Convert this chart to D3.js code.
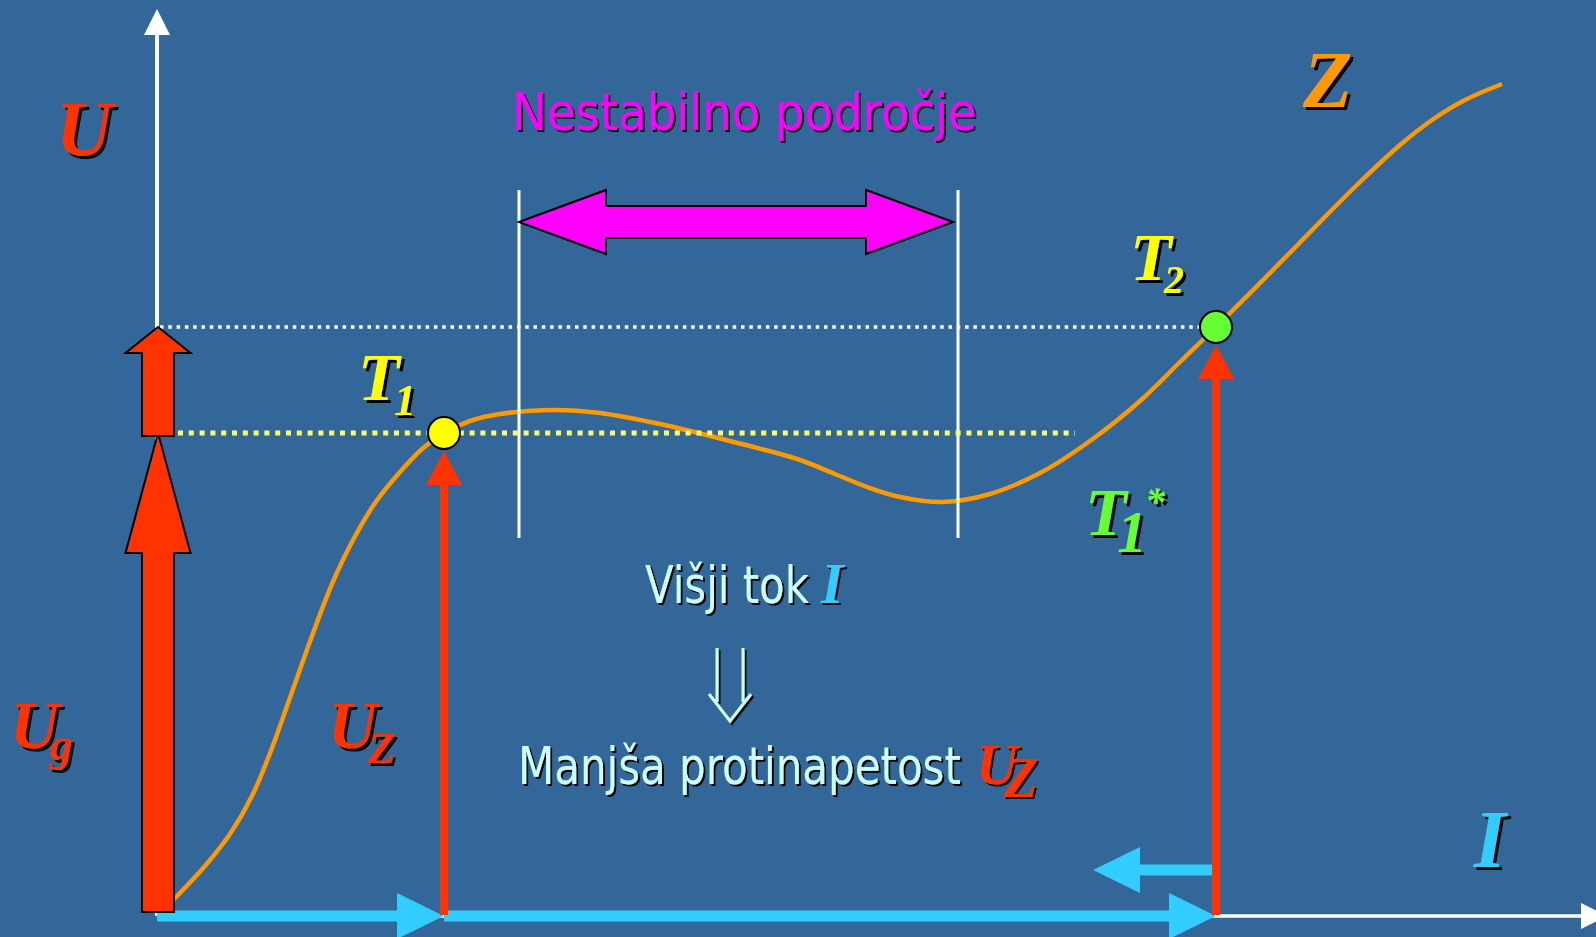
<!DOCTYPE html>
<html><head><meta charset="utf-8">
<script src="https://cdn.jsdelivr.net/npm/d3@7"></script>
<style>html,body{margin:0;padding:0;background:#336699;overflow:hidden}</style>
</head><body><svg id="c" width="1596" height="937"></svg>
<script>
// ---------- data (I = current, U = voltage, arbitrary units) ----------
const curveI = [0, 23, 48, 73, 95, 115, 135, 155, 175, 195, 218, 243, 265, 287, 313, 343, 398, 443, 503, 573, 643, 678, 710, 743, 786, 833, 883, 933, 983, 1023, 1059, 1110, 1163, 1203, 1243, 1275, 1308, 1345];
const curveU = [0, 23, 50, 82, 120, 168, 224, 280, 332, 374, 413, 444, 467, 483, 495, 502, 506, 503, 492, 475, 456, 442, 429, 419, 414, 422, 443, 475, 515, 554, 589, 640, 694, 734, 771, 796, 816, 832];
const pointNames = ["T1", "T2"];
const pointI = [287, 1059];
const pointU = [483, 589];
const unstableI = [362, 801];          // boundaries of the unstable region
const unstableU = [378, 726];          // vertical extent of boundary lines
const unstableArrowI = [362, 796];
const unstableArrowU = 694;
const ugBarI = 1;
const ugBarU = [4, 483];               // generator voltage arrow
const deltaArrowU = [480, 589];        // extra voltage arrow
const currentFromI = [0, 287, 1059];
const currentToI = [287, 1059, 936];
const currentU = [0, 0, 46];
const yellowDotI = [21, 918];
const whiteDotI = [3, 1059];
const axisIMax = 1450, axisUMax = 907;

// ---------- setup ----------
const W = 1596, H = 937;
const svg = d3.select("#c");
const x = d3.scaleLinear().domain([0, 1440]).range([157, 1597]);
const y = d3.scaleLinear().domain([0, 900]).range([916, 16]);

const defs = svg.append("defs");
function shadowFilter(id, d) {
  const f = defs.append("filter").attr("id", id).attr("x", "-20%").attr("y", "-20%").attr("width", "150%").attr("height", "150%");
  f.append("feOffset").attr("in", "SourceAlpha").attr("dx", d).attr("dy", d).attr("result", "o");
  f.append("feFlood").attr("flood-color", "#000").attr("result", "f");
  f.append("feComposite").attr("in", "f").attr("in2", "o").attr("operator", "in").attr("result", "s");
  const m = f.append("feMerge");
  m.append("feMergeNode").attr("in", "s");
  m.append("feMergeNode").attr("in", "SourceGraphic");
}
shadowFilter("sh3", 3);
shadowFilter("sh2", 2);

svg.append("rect").attr("width", W).attr("height", H).attr("fill", "#336699");

// ---------- curve Z ----------
const pts = curveI.map((d, i) => [d, curveU[i]]);
svg.append("path").datum(pts)
  .attr("d", d3.line().x(d => x(d[0])).y(d => y(d[1])).curve(d3.curveCatmullRom.alpha(0.5)))
  .attr("fill", "none").attr("stroke", "#FF9900").attr("stroke-width", 4.5);

// ---------- unstable region boundaries ----------
unstableI.forEach(v => {
  svg.append("line").attr("x1", x(v)).attr("x2", x(v))
    .attr("y1", y(unstableU[0])).attr("y2", y(unstableU[1]))
    .attr("stroke", "#fff").attr("stroke-width", 3);
});

// double arrow
(function () {
  const xl = x(unstableArrowI[0]), xr = x(unstableArrowI[1]), yc = y(unstableArrowU);
  const hl = 87, hw = 32, sw = 16;
  const p = `M${xl},${yc} L${xl + hl},${yc - hw} L${xl + hl},${yc - sw} L${xr - hl},${yc - sw} L${xr - hl},${yc - hw} L${xr},${yc} L${xr - hl},${yc + hw} L${xr - hl},${yc + sw} L${xl + hl},${yc + sw} L${xl + hl},${yc + hw} Z`;
  svg.append("path").attr("d", p).attr("fill", "#FF00FF").attr("stroke", "#000").attr("stroke-width", 2).attr("stroke-linejoin", "miter");
})();

// ---------- dotted lines ----------
svg.append("line").attr("x1", x(whiteDotI[0])).attr("x2", x(whiteDotI[1]))
  .attr("y1", y(pointU[1])).attr("y2", y(pointU[1]))
  .attr("stroke", "#fff").attr("stroke-width", 3.5).attr("stroke-dasharray", "3.5 4.8");
svg.append("line").attr("x1", x(yellowDotI[0])).attr("x2", x(yellowDotI[1]))
  .attr("y1", y(pointU[0])).attr("y2", y(pointU[0]))
  .attr("stroke", "#FFFF66").attr("stroke-width", 5).attr("stroke-dasharray", "5 5.8");

// ---------- axes ----------
svg.append("line").attr("x1", x(0)).attr("x2", x(0)).attr("y1", y(0)).attr("y2", y(axisUMax) + 20)
  .attr("stroke", "#fff").attr("stroke-width", 4);
svg.append("path").attr("d", `M${x(0)},${y(axisUMax)} L${x(0) - 13},${y(axisUMax) + 26} L${x(0) + 13},${y(axisUMax) + 26} Z`).attr("fill", "#fff");
svg.append("line").attr("x1", x(0)).attr("x2", x(axisIMax) - 20).attr("y1", y(0)).attr("y2", y(0))
  .attr("stroke", "#fff").attr("stroke-width", 3.5);
svg.append("path").attr("d", `M${x(axisIMax)},${y(0)} L${x(axisIMax) - 26},${y(0) - 13} L${x(axisIMax) - 26},${y(0) + 13} Z`).attr("fill", "#fff");

// ---------- current arrows ----------
currentFromI.forEach((f, i) => {
  const x0 = x(f), x1 = x(currentToI[i]), yc = y(currentU[i]);
  const dir = x1 > x0 ? 1 : -1;
  const hl = 47, hw = 23, sw = 5.5;
  const xb = x1 - dir * hl;
  const p = `M${x0},${yc - sw} L${xb},${yc - sw} L${xb},${yc - hw} L${x1},${yc} L${xb},${yc + hw} L${xb},${yc + sw} L${x0},${yc + sw} Z`;
  svg.append("path").attr("d", p).attr("fill", "#33CCFF");
});

// ---------- U_Z arrows at operating points ----------
function vArrow(xc, yb, yt, hl, hw, sw) {
  return `M${xc - sw},${yb} L${xc - sw},${yt + hl} L${xc - hw},${yt + hl} L${xc},${yt} L${xc + hw},${yt + hl} L${xc + sw},${yt + hl} L${xc + sw},${yb} Z`;
}
pointI.forEach((v, i) => {
  svg.append("path").attr("d", vArrow(x(v), y(0) - 1, y(pointU[i]) + 18, 34, 18, 4)).attr("fill", "#FF3300");
});

// ---------- generator voltage bar arrows ----------
svg.append("path").attr("d", vArrow(x(ugBarI), y(ugBarU[0]), y(ugBarU[1]), 120, 32.5, 16))
  .attr("fill", "#FF3300").attr("stroke", "#000").attr("stroke-width", 2);
svg.append("path").attr("d", vArrow(x(ugBarI), y(deltaArrowU[0]), y(deltaArrowU[1]), 26, 32.5, 16))
  .attr("fill", "#FF3300").attr("stroke", "#000").attr("stroke-width", 2);

// ---------- operating points ----------
const ptColors = ["#FFFF00", "#66FF33"];
svg.selectAll("circle.pt").data(pointI).enter().append("circle").attr("class", "pt")
  .attr("cx", d => x(d)).attr("cy", (d, i) => y(pointU[i])).attr("r", 16)
  .attr("fill", (d, i) => ptColors[i]).attr("stroke", "#000").attr("stroke-width", 2);

// ---------- texts ----------
const SERIF = "'Liberation Serif','Times New Roman',serif";
const SANS = "'DejaVu Sans',Verdana,sans-serif";
// italic serif symbol labels: parts [string, x, y, size, color]
function label(parts, filt) {
  const t = svg.append("text").attr("filter", `url(#${filt})`)
    .attr("font-family", SERIF).attr("font-weight", "bold").attr("font-style", "italic");
  parts.forEach(([s, px, py, size, fill]) => {
    t.append("tspan").attr("x", px).attr("y", py).text(s).attr("fill", fill).attr("font-size", size);
  });
}
// sans sentence text compressed horizontally to the reference width
function sans(s, px, py, size, fill, width) {
  const t = svg.append("text").text(s).attr("x", 0).attr("y", 0)
    .attr("font-family", SANS).attr("font-size", size).attr("fill", fill).attr("filter", "url(#sh2)");
  const nat = t.node().getComputedTextLength();
  t.attr("transform", `translate(${px},${py}) scale(${width / nat},1)`);
}
const RED = "#FF3300", YEL = "#FFFF00", GRN = "#66FF33", ORG = "#FF9900", BLU = "#33CCFF", LT = "#CCFFFF", MAG = "#FF00FF";

label([["U", 56, 155, 78, RED]], "sh3");
label([["U", 10, 748, 68, RED], ["g", 50, 760, 46, RED]], "sh3");
label([["U", 328, 748, 68, RED], ["Z", 368, 763, 45, RED]], "sh3");
label([["T", 358, 400, 68, YEL], ["1", 394, 415, 44, YEL]], "sh3");
label([["T", 1130, 280, 68, YEL], ["2", 1164, 293, 40, YEL]], "sh3");
label([["T", 1085, 535, 68, GRN], ["1", 1117, 552, 60, GRN], ["*", 1145, 515, 40, GRN]], "sh3");
label([["Z", 1303, 107, 81, ORG]], "sh3");
label([["I", 1474, 867, 82, BLU]], "sh3");

sans("Nestabilno področje", 512, 130, 52, MAG, 465);
sans("Višji tok", 645, 603, 52, LT, 164);
label([["I", 821, 603, 58, BLU]], "sh2");
sans("Manjša protinapetost", 518, 784, 52, LT, 443);
label([["U", 976, 784, 58, RED], ["Z", 1004, 797, 56, RED]], "sh2");

// implication arrow
svg.append("path").attr("d", "M717,648 V702 M743,648 V702 M709,694 L730,721 L751,694")
  .attr("fill", "none").attr("stroke", LT).attr("stroke-width", 3).attr("filter", "url(#sh2)");
</script></body></html>
